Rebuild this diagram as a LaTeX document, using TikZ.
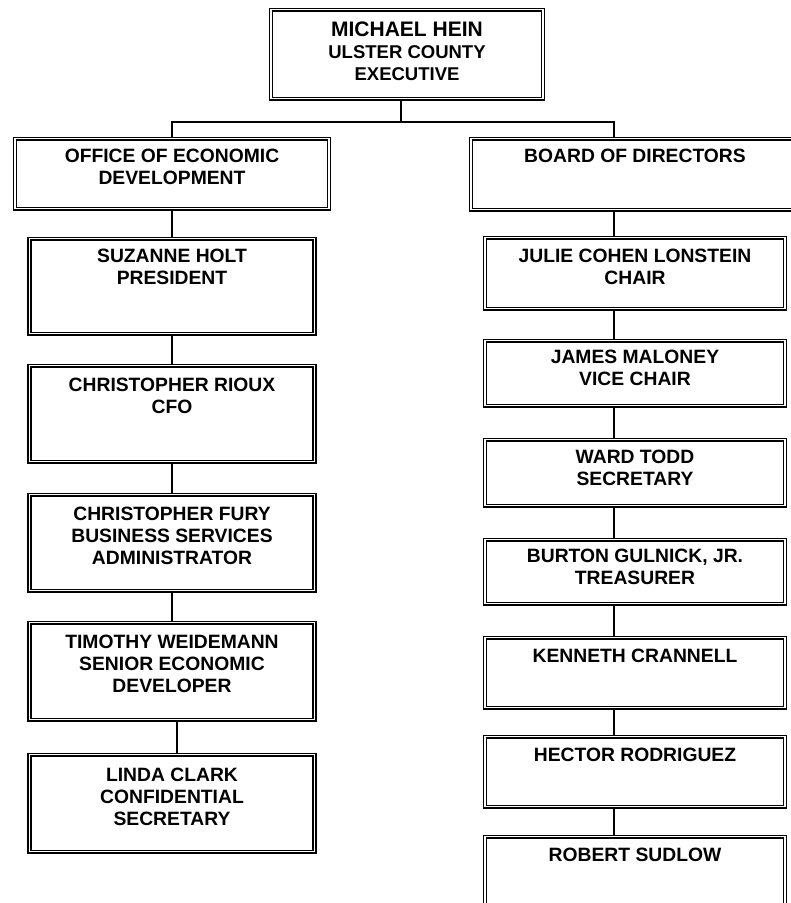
\documentclass[tikz,border=0pt]{standalone}
\usepackage{fontspec}
\setmainfont{Liberation Sans}
\usetikzlibrary{positioning}

% box text: width, height, top pad, lines
\newcommand{\unitbox}[4]{\parbox[t][#2pt][t]{#1pt}{\centering\vspace*{#3pt}#4\par}}

\begin{document}
\begin{tikzpicture}[x=1pt,y=-1pt,every node/.style={draw,double,double distance=1.3pt,line width=1.4pt,inner sep=0pt,anchor=north,font=\fontsize{19.3}{22.3}\selectfont\bfseries},link/.style={line width=1.3pt}]
\useasboundingbox (0,0) rectangle (791,903);
\clip (0,0) rectangle (791,903);

\node(exec) at (407,9) {\unitbox{272}{89}{12}{{\fontsize{21}{23}\selectfont MICHAEL HEIN}\\ \fontsize{18.5}{22}\selectfont ULSTER COUNTY\\ EXECUTIVE}};

\node(oed) at (172,138) {\unitbox{314}{70}{10}{OFFICE OF ECONOMIC\\ DEVELOPMENT}};
\node(holt) at (172,238) {\unitbox{285}{95}{10}{SUZANNE HOLT\\ PRESIDENT}};
\node(rioux) at (172,365) {\unitbox{285}{96}{12}{CHRISTOPHER RIOUX\\ CFO}};
\node(fury) at (172,494) {\unitbox{285}{96}{12}{CHRISTOPHER FURY\\ BUSINESS SERVICES\\ ADMINISTRATOR}};
\node(weid) at (172,622) {\unitbox{285}{97}{12}{TIMOTHY WEIDEMANN\\ SENIOR ECONOMIC\\ DEVELOPER}};
\node(clark) at (172,754) {\unitbox{285}{97}{13}{LINDA CLARK\\ CONFIDENTIAL\\ SECRETARY}};

\node(board) at (635,138) {\unitbox{328}{71}{10}{BOARD OF DIRECTORS}};
\node(cohen) at (635,237) {\unitbox{300}{71}{11}{JULIE COHEN LONSTEIN\\ CHAIR}};
\node(maloney) at (635,340) {\unitbox{300}{65}{9}{JAMES MALONEY\\ VICE CHAIR}};
\node(todd) at (635,439) {\unitbox{300}{66}{10}{WARD TODD\\ SECRETARY}};
\node(gulnick) at (635,539) {\unitbox{300}{64}{9}{BURTON GULNICK, JR.\\ TREASURER}};
\node(crannell) at (635,637) {\unitbox{300}{70}{11}{KENNETH CRANNELL}};
\node(rodriguez) at (635,736) {\unitbox{300}{70}{11}{HECTOR RODRIGUEZ}};
\node(sudlow) at (635,836) {\unitbox{300}{80}{11}{ROBERT SUDLOW}};

\coordinate(bus) at (401,122);
\draw[link] ([xshift=-6pt]exec.south) -- (bus);
\draw[link] (oed.north) |- (bus) -| ([xshift=-21pt]board.north);

\draw[link] (oed)--(holt); \draw[link] (holt)--(rioux); \draw[link] (rioux)--(fury); \draw[link] (fury)--(weid);
\draw[link] ([xshift=5pt]weid.south)--([xshift=5pt]clark.north);

\draw[link] ([xshift=-21pt]board.south)--([xshift=-21pt]cohen.north); \draw[link] ([xshift=-21pt]cohen.south)--([xshift=-21pt]maloney.north);
\draw[link] ([xshift=-21pt]maloney.south)--([xshift=-21pt]todd.north); \draw[link] ([xshift=-21pt]todd.south)--([xshift=-21pt]gulnick.north);
\draw[link] ([xshift=-21pt]gulnick.south)--([xshift=-21pt]crannell.north); \draw[link] ([xshift=-21pt]crannell.south)--([xshift=-21pt]rodriguez.north);
\draw[link] ([xshift=-21pt]rodriguez.south)--([xshift=-21pt]sudlow.north);
\end{tikzpicture}
\end{document}
